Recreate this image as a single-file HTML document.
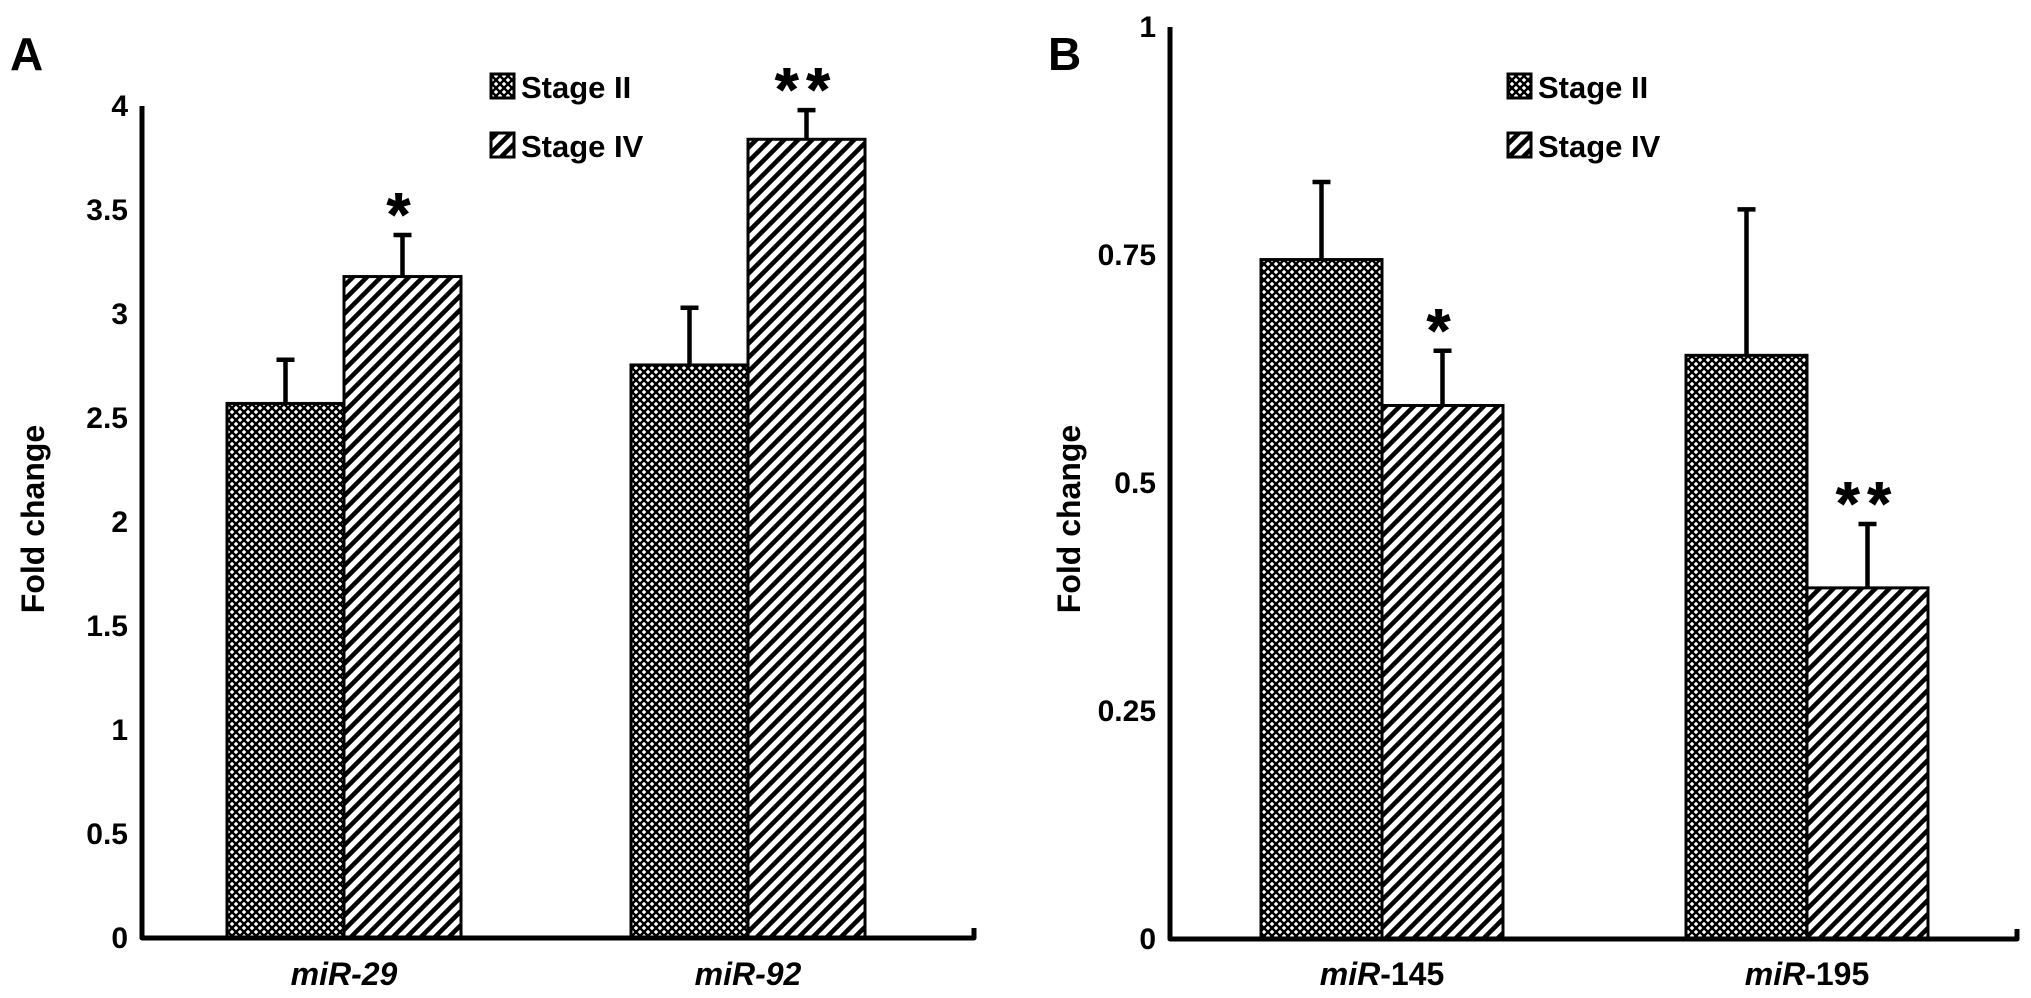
<!DOCTYPE html>
<html><head><meta charset="utf-8"><style>
html,body{margin:0;padding:0;background:#fff;}
svg{display:block;font-family:"Liberation Sans",sans-serif;}
</style></head><body>
<svg id="chart" width="2031" height="998" viewBox="0 0 2031 998" xmlns="http://www.w3.org/2000/svg">
<defs>
<pattern id="cross" patternUnits="userSpaceOnUse" width="8" height="8">
<rect width="8" height="8" fill="#fff"/>
<path d="M-2,2 L2,-2 M0,8 L8,0 M6,10 L10,6" stroke="#000" stroke-width="2.4"/>
<path d="M-2,6 L2,10 M0,0 L8,8 M6,-2 L10,2" stroke="#000" stroke-width="2.4"/>
</pattern>
<pattern id="hatch" patternUnits="userSpaceOnUse" width="14" height="14">
<rect width="14" height="14" fill="#fff"/>
<path d="M-3.5,3.5 L3.5,-3.5 M0,14 L14,0 M10.5,17.5 L17.5,10.5" stroke="#000" stroke-width="4.6"/>
</pattern>
</defs>
<g id="panelA"></g>
<g id="panelB"></g>
</svg>
<script>
const catsA = ["miR-29", "miR-92"];
const stage2A = [2.57, 2.755];
const stage4A = [3.18, 3.84];
const err2A = [0.21, 0.275];
const err4A = [0.20, 0.14];
const sigA = ["*", "**"];
const ticksA = [0, 0.5, 1, 1.5, 2, 2.5, 3, 3.5, 4];
const tickLabelsA = ["0", "0.5", "1", "1.5", "2", "2.5", "3", "3.5", "4"];

const catsB = ["145", "195"];
const stage2B = [0.745, 0.64];
const stage4B = [0.585, 0.385];
const err2B = [0.085, 0.16];
const err4B = [0.06, 0.07];
const sigB = ["*", "**"];
const ticksB = [0, 0.25, 0.5, 0.75, 1];
const tickLabelsB = ["0", "0.25", "0.5", "0.75", "1"];

const NS = "http://www.w3.org/2000/svg";
function mk(parent, tag, attrs, text) {
  const e = document.createElementNS(NS, tag);
  for (const k in attrs) e.setAttribute(k, attrs[k]);
  if (text !== undefined) e.textContent = text;
  parent.appendChild(e);
  return e;
}

function drawPanel(g, cfg) {
  const yScale = v => cfg.y0 - (v / cfg.max) * (cfg.y0 - cfg.yTop);
  const xGroup = i => cfg.groupCenters[i];
  let t = mk(g, "text", {x: cfg.letterX, y: 70, "font-size": 46, "font-weight": "bold"}, cfg.letter);
  
  
  t = mk(g, "text", {x: 0, y: 0, "font-size": 32, "font-weight": "bold", "text-anchor": "middle",
    transform: `translate(${cfg.titleX},519) rotate(-90)`}, "Fold change");
  
  
  cfg.ticks.forEach((v, i) => {
    const l = mk(g, "text", {x: cfg.axisX - 14, y: yScale(v) + 10, "font-size": 30, "font-weight": "bold", "text-anchor": "end"}, cfg.tickLabels[i]);
    
    
  });
  const bw = cfg.barW;
  cfg.cats.forEach((c, i) => {
    const cx = xGroup(i);
    const s2 = cfg.s2[i], s4 = cfg.s4[i];
    let r = mk(g, "rect", {x: cx - bw, y: yScale(s2), width: bw, height: cfg.y0 - yScale(s2), fill: "url(#cross)", stroke: "#000", "stroke-width": 3});
    
    
    r = mk(g, "rect", {x: cx, y: yScale(s4), width: bw, height: cfg.y0 - yScale(s4), fill: "url(#hatch)", stroke: "#000", "stroke-width": 3});
    
    
    [[cx - bw / 2, s2, cfg.e2[i]], [cx + bw / 2, s4, cfg.e4[i]]].forEach(([x, v, e]) => {
      const p = mk(g, "path", {d: `M${x},${yScale(v)} V${yScale(v + e)} M${x - 9},${yScale(v + e)} H${x + 9}`, stroke: "#000", "stroke-width": 4.5, fill: "none"});
      
      
    });
    const st = mk(g, "text", {x: cx + bw / 2, y: yScale(s4 + cfg.e4[i]), "font-size": 60, "font-weight": "bold", "text-anchor": "middle", "letter-spacing": 8, stroke: "#000", "stroke-width": 1}, cfg.sig[i]);
    
    
    const xl = mk(g, "text", {x: cx, y: 985, "font-size": 32, "font-weight": "bold", "text-anchor": "middle"});
    
    
    if (cfg.splitLabel) {
      mk(xl, "tspan", {"font-style": "italic"}, "miR");
      mk(xl, "tspan", {}, "-" + c);
    } else {
      xl.setAttribute("font-style", "italic");
      xl.textContent = c;
    }
  });
  const ax = mk(g, "path", {d: `M${cfg.axisX},${cfg.yTop} V${cfg.y0} H${cfg.xEnd} V${cfg.y0 - 10}`, stroke: "#000", "stroke-width": 5, fill: "none", "stroke-linejoin": "round"});
  
  
  const lg = mk(g, "g", {});
  
  
  [["url(#cross)", "Stage II", 74], ["url(#hatch)", "Stage IV", 133]].forEach(([f, lab, y]) => {
    const e = mk(lg, "g", {});
    
    
    mk(e, "rect", {x: cfg.legX, y: y, width: 23, height: 24, fill: f, stroke: "#000", "stroke-width": 3});
    mk(e, "text", {x: cfg.legX + 30, y: y + 24, "font-size": 31, "font-weight": "bold"}, lab);
  });
}

drawPanel(document.getElementById("panelA"), {
  letter: "A", letterX: 10, titleX: 44, axisX: 142, yTop: 106, y0: 938, max: 4, xEnd: 974,
  ticks: ticksA, tickLabels: tickLabelsA, cats: catsA, s2: stage2A, s4: stage4A, e2: err2A, e4: err4A, sig: sigA,
  groupCenters: [344, 748], barW: 117, legX: 491, splitLabel: false
});
drawPanel(document.getElementById("panelB"), {
  letter: "B", letterX: 1048, titleX: 1080, axisX: 1170, yTop: 27, y0: 939, max: 1, xEnd: 2017,
  ticks: ticksB, tickLabels: tickLabelsB, cats: catsB, s2: stage2B, s4: stage4B, e2: err2B, e4: err4B, sig: sigB,
  groupCenters: [1382, 1807], barW: 121, legX: 1508, splitLabel: true
});
</script>
</body></html>
